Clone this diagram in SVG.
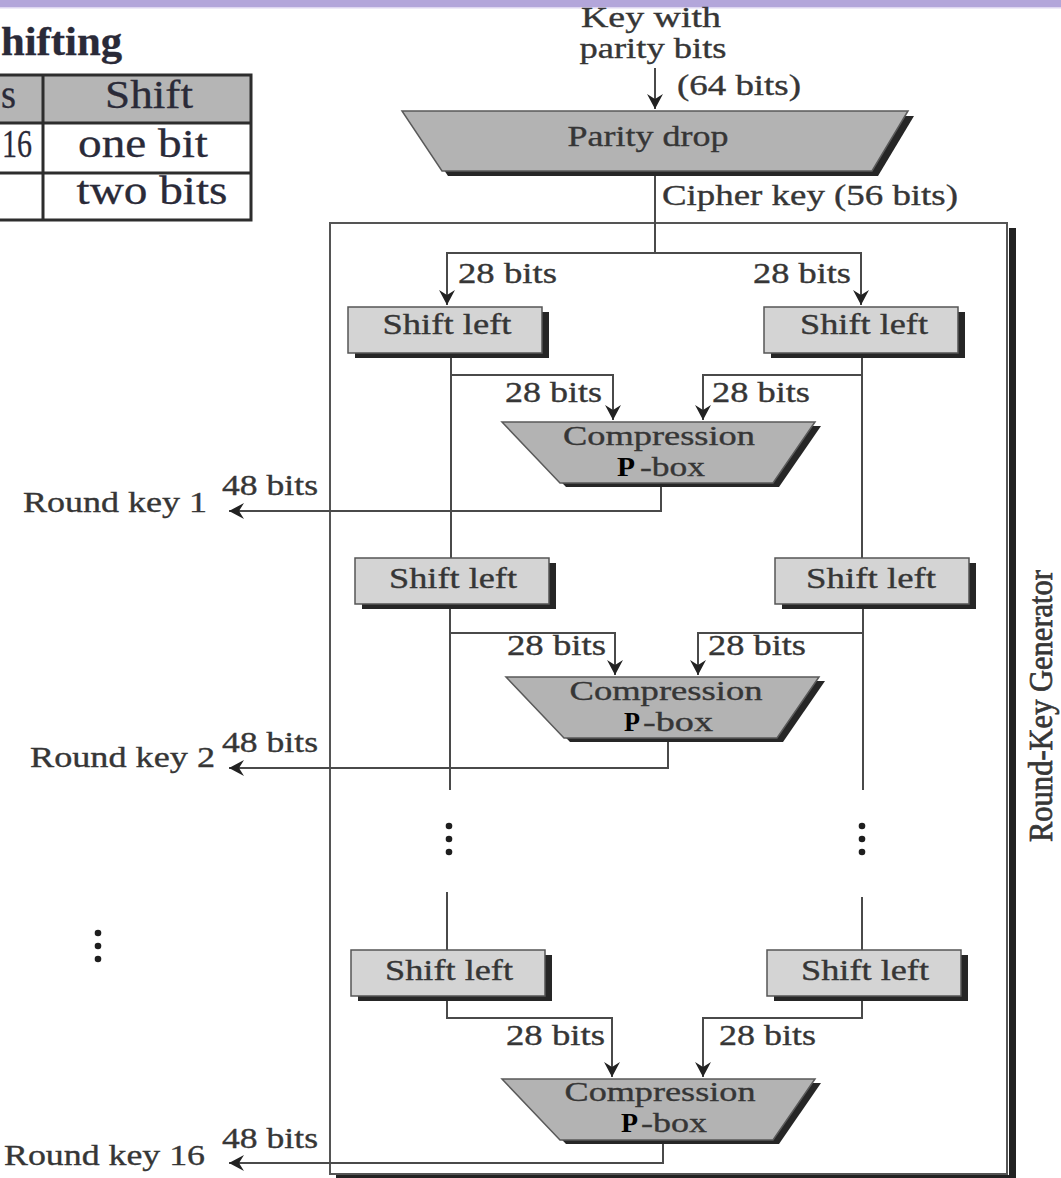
<svg xmlns="http://www.w3.org/2000/svg" width="1061" height="1178" viewBox="0 0 1061 1178">
  <style>
    .lbl { font-family: "Liberation Serif", "Times New Roman", serif; font-size: 29px; fill: #363636; stroke: #363636; stroke-width: 0.35; }
    .cmp { font-size: 27px; }
    .tbl { font-family: "Liberation Serif", "Times New Roman", serif; font-size: 40px; fill: #2a2a38; stroke: #2a2a38; stroke-width: 0.3; }
    .pb { font-family: "Liberation Serif", "Times New Roman", serif; font-size: 27px; font-weight: bold; fill: #000; }
    .wire { fill: none; stroke: #4a4a4a; stroke-width: 2; }
    .arrow { fill: none; stroke: #4a4a4a; stroke-width: 2; marker-end: url(#head); }
    .shift { fill: #d4d4d4; stroke: #555; stroke-width: 1.5; }
    .shade { fill: #262626; }
    .gate { fill: #b3b3b3; stroke: #5a5a5a; stroke-width: 1.5; }
    .dot { fill: #1e1e1e; }
    .grid { stroke: #2d2d2d; stroke-width: 3; fill: none; }
  </style>
  <defs>
    <marker id="head" markerUnits="userSpaceOnUse" markerWidth="18" markerHeight="18" refX="0" refY="0" viewBox="-16 -9 18 18" orient="auto" overflow="visible">
      <path d="M0,0 L-15,-8 L-10,0 L-15,8 Z" fill="#222"/>
    </marker>
    <!-- trapezoid used for every compression P-box, anchored at its top-left corner -->
    <polygon id="compShape" points="0,0 313,0 271,61 58,61"/>
    <rect id="shiftShape" width="194" height="46"/>
  </defs>

  <rect width="1061" height="1178" fill="#fff"/>
  <!-- header band -->
  <rect x="0" y="0" width="1061" height="7" fill="#b3a6da"/>
  <rect x="0" y="7" width="1061" height="1.5" fill="#ddd6f0"/>

  <!-- shift schedule table (left part cut off) -->
  <g id="shift-table">
    <text class="tbl" x="1" y="55" font-weight="bold" font-size="35" textLength="121" lengthAdjust="spacingAndGlyphs">hifting</text>
    <rect x="-5" y="75" width="256" height="48" fill="#b5b5b5"/>
    <path class="grid" d="M-5,75 H251 M-5,123 H251 M-5,173 H251 M-5,220 H251 M43,75 V220 M251,73.5 V221.5"/>
    <text class="tbl" x="1" y="108" textLength="15" lengthAdjust="spacingAndGlyphs">s</text>
    <text class="tbl" x="2" y="157" textLength="30" lengthAdjust="spacingAndGlyphs">16</text>
    <text class="tbl" x="149" y="108" text-anchor="middle" textLength="88" lengthAdjust="spacingAndGlyphs">Shift</text>
    <text class="tbl" x="143" y="157" text-anchor="middle" textLength="130" lengthAdjust="spacingAndGlyphs">one bit</text>
    <text class="tbl" x="152" y="204" text-anchor="middle" textLength="151" lengthAdjust="spacingAndGlyphs">two bits</text>
  </g>

  <!-- key input -->
  <g id="key-input">
    <text class="lbl" x="651" y="27" text-anchor="middle" textLength="140" lengthAdjust="spacingAndGlyphs">Key with</text>
    <text class="lbl" x="653" y="58" text-anchor="middle" textLength="147" lengthAdjust="spacingAndGlyphs">parity bits</text>
    <text class="lbl" x="677" y="95" textLength="124" lengthAdjust="spacingAndGlyphs">(64 bits)</text>
  </g>

  <!-- parity drop -->
  <g id="parity-drop">
    <polygon class="shade" points="408,116 914,116 878,176 448,176"/>
    <polygon class="gate" points="402,111 908,111 872,171 442,171"/>
    <text class="lbl" x="648" y="146" text-anchor="middle" textLength="161" lengthAdjust="spacingAndGlyphs">Parity drop</text>
  </g>

  <text class="lbl" x="662" y="205" textLength="296" lengthAdjust="spacingAndGlyphs">Cipher key (56 bits)</text>

  <!-- round-key generator frame -->
  <g id="generator-frame">
    <rect x="330" y="223" width="677" height="951" fill="none" stroke="#555" stroke-width="2"/>
    <rect x="1009" y="228" width="7" height="950" fill="#222"/>
    <rect x="336" y="1175" width="680" height="3" fill="#222"/>
    <text class="lbl" transform="translate(1052 706) scale(1.15 1) rotate(-90)" text-anchor="middle" font-size="29" textLength="272" lengthAdjust="spacingAndGlyphs" style="stroke-width:0.6">Round-Key Generator</text>
  </g>

  <!-- connectors -->
  <g id="connectors">
    <line class="arrow" x1="655" y1="68" x2="655" y2="109"/>
    <line class="wire" x1="655" y1="176" x2="655" y2="253"/>
    <polyline class="arrow" points="655,253 447,253 447,305"/>
    <polyline class="arrow" points="655,253 861,253 861,305"/>

    <!-- round 1 -->
    <line class="wire" x1="451" y1="357" x2="451" y2="558"/>
    <line class="wire" x1="862" y1="357" x2="862" y2="558"/>
    <polyline class="arrow" points="451,375 613,375 613,420"/>
    <polyline class="arrow" points="862,375 703,375 703,420"/>
    <polyline class="arrow" points="661,485 661,511 229,511"/>

    <!-- round 2 -->
    <line class="wire" x1="450" y1="609" x2="450" y2="790"/>
    <line class="wire" x1="863" y1="609" x2="863" y2="790"/>
    <polyline class="arrow" points="450,633 615,633 615,675"/>
    <polyline class="arrow" points="863,633 698,633 698,675"/>
    <polyline class="arrow" points="668,742 668,768 229,768"/>

    <!-- round 16 -->
    <line class="wire" x1="447" y1="892" x2="447" y2="950"/>
    <line class="wire" x1="862" y1="897" x2="862" y2="950"/>
    <polyline class="arrow" points="447,1000 447,1018 612,1018 612,1077"/>
    <polyline class="arrow" points="862,1000 862,1018 703,1018 703,1077"/>
    <polyline class="arrow" points="663,1142 663,1163 229,1163"/>
  </g>

  <!-- wire labels -->
  <g id="wire-labels">
    <text class="lbl" x="458" y="283" textLength="99" lengthAdjust="spacingAndGlyphs">28 bits</text>
    <text class="lbl" x="753" y="283" textLength="98" lengthAdjust="spacingAndGlyphs">28 bits</text>
    <text class="lbl" x="505" y="402" textLength="97" lengthAdjust="spacingAndGlyphs">28 bits</text>
    <text class="lbl" x="712" y="402" textLength="98" lengthAdjust="spacingAndGlyphs">28 bits</text>
    <text class="lbl" x="507" y="655" textLength="99" lengthAdjust="spacingAndGlyphs">28 bits</text>
    <text class="lbl" x="708" y="655" textLength="98" lengthAdjust="spacingAndGlyphs">28 bits</text>
    <text class="lbl" x="506" y="1045" textLength="99" lengthAdjust="spacingAndGlyphs">28 bits</text>
    <text class="lbl" x="719" y="1045" textLength="97" lengthAdjust="spacingAndGlyphs">28 bits</text>
    <text class="lbl" x="222" y="495" textLength="96" lengthAdjust="spacingAndGlyphs">48 bits</text>
    <text class="lbl" x="222" y="752" textLength="96" lengthAdjust="spacingAndGlyphs">48 bits</text>
    <text class="lbl" x="222" y="1148" textLength="96" lengthAdjust="spacingAndGlyphs">48 bits</text>
  </g>

  <!-- round key outputs -->
  <g id="round-key-1">
    <text class="lbl" x="23" y="512" textLength="184" lengthAdjust="spacingAndGlyphs">Round key 1</text>
  </g>
  <g id="round-key-2">
    <text class="lbl" x="30" y="767" textLength="185" lengthAdjust="spacingAndGlyphs">Round key 2</text>
  </g>
  <g id="round-key-16">
    <text class="lbl" x="4" y="1165" textLength="201" lengthAdjust="spacingAndGlyphs">Round key 16</text>
  </g>

  <!-- round 1 -->
  <g id="shift-left-1a">
    <use href="#shiftShape" class="shade" x="355" y="312"/>
    <use href="#shiftShape" class="shift" x="348" y="307"/>
    <text class="lbl" x="447" y="334" text-anchor="middle" textLength="129" lengthAdjust="spacingAndGlyphs">Shift left</text>
  </g>
  <g id="shift-left-1b">
    <use href="#shiftShape" class="shade" x="771" y="312"/>
    <use href="#shiftShape" class="shift" x="764" y="307"/>
    <text class="lbl" x="864" y="334" text-anchor="middle" textLength="128" lengthAdjust="spacingAndGlyphs">Shift left</text>
  </g>
  <g id="compression-1">
    <use href="#compShape" class="shade" x="508" y="426"/>
    <use href="#compShape" class="gate" x="502" y="422"/>
    <text class="lbl cmp" x="659" y="445" text-anchor="middle" textLength="192" lengthAdjust="spacingAndGlyphs">Compression</text>
    <text class="pb" x="617" y="476" textLength="18" lengthAdjust="spacingAndGlyphs">P</text>
    <text class="lbl cmp" x="640" y="476" textLength="65" lengthAdjust="spacingAndGlyphs">-box</text>
  </g>

  <!-- round 2 -->
  <g id="shift-left-2a">
    <use href="#shiftShape" class="shade" x="362" y="563"/>
    <use href="#shiftShape" class="shift" x="355" y="558"/>
    <text class="lbl" x="453" y="588" text-anchor="middle" textLength="128" lengthAdjust="spacingAndGlyphs">Shift left</text>
  </g>
  <g id="shift-left-2b">
    <use href="#shiftShape" class="shade" x="782" y="563"/>
    <use href="#shiftShape" class="shift" x="775" y="558"/>
    <text class="lbl" x="871" y="588" text-anchor="middle" textLength="130" lengthAdjust="spacingAndGlyphs">Shift left</text>
  </g>
  <g id="compression-2">
    <use href="#compShape" class="shade" x="512" y="681"/>
    <use href="#compShape" class="gate" x="506" y="677"/>
    <text class="lbl cmp" x="666" y="700" text-anchor="middle" textLength="193" lengthAdjust="spacingAndGlyphs">Compression</text>
    <text class="pb" x="624" y="731" textLength="16" lengthAdjust="spacingAndGlyphs">P</text>
    <text class="lbl cmp" x="643" y="731" textLength="70" lengthAdjust="spacingAndGlyphs">-box</text>
  </g>

  <!-- ellipsis between rounds -->
  <g id="ellipsis">
    <circle class="dot" cx="449" cy="826" r="3.3"/>
    <circle class="dot" cx="449" cy="839" r="3.3"/>
    <circle class="dot" cx="449" cy="852" r="3.3"/>
    <circle class="dot" cx="862" cy="826" r="3.3"/>
    <circle class="dot" cx="862" cy="839" r="3.3"/>
    <circle class="dot" cx="862" cy="852" r="3.3"/>
    <circle class="dot" cx="98" cy="933" r="3.3"/>
    <circle class="dot" cx="98" cy="946" r="3.3"/>
    <circle class="dot" cx="98" cy="959" r="3.3"/>
  </g>

  <!-- round 16 -->
  <g id="shift-left-16a">
    <use href="#shiftShape" class="shade" x="358" y="955"/>
    <use href="#shiftShape" class="shift" x="351" y="950"/>
    <text class="lbl" x="449" y="980" text-anchor="middle" textLength="128" lengthAdjust="spacingAndGlyphs">Shift left</text>
  </g>
  <g id="shift-left-16b">
    <use href="#shiftShape" class="shade" x="774" y="955"/>
    <use href="#shiftShape" class="shift" x="767" y="950"/>
    <text class="lbl" x="865" y="980" text-anchor="middle" textLength="128" lengthAdjust="spacingAndGlyphs">Shift left</text>
  </g>
  <g id="compression-16">
    <use href="#compShape" class="shade" x="508" y="1083"/>
    <use href="#compShape" class="gate" x="502" y="1079"/>
    <text class="lbl cmp" x="660" y="1101" text-anchor="middle" textLength="191" lengthAdjust="spacingAndGlyphs">Compression</text>
    <text class="pb" x="621" y="1132" textLength="17" lengthAdjust="spacingAndGlyphs">P</text>
    <text class="lbl cmp" x="641" y="1132" textLength="66" lengthAdjust="spacingAndGlyphs">-box</text>
  </g>
</svg>
